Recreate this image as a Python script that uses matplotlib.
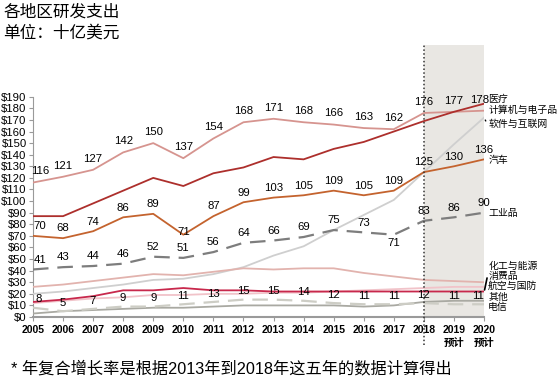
import matplotlib
matplotlib.use("Agg")
import matplotlib.pyplot as plt

plt.rcParams["font.family"] = ["Liberation Sans", "Noto Sans CJK SC"]

years = list(range(2005, 2021))
year_labels = [str(y) for y in years[:-2]] + ["2019\n预计", "2020\n预计"]

computing = [116, 121, 127, 142, 150, 137, 154, 168, 171, 168, 166, 163, 162, 176, 177, 178]
healthcare = [87, 87, 98, 109, 120, 113, 124, 129, 138, 136, 145, 151, 160, 169, 177, 184]
software = [20, 22, 25, 28, 32, 33, 37, 43, 53, 61, 75, 88, 101, 125, 149, 172]
auto = [70, 68, 74, 86, 89, 71, 87, 99, 103, 105, 109, 105, 109, 125, 130, 136]
industrial = [41, 43, 44, 46, 52, 51, 56, 64, 66, 69, 75, 73, 71, 83, 86, 90]
chemicals = [26, 28, 31, 34, 37, 36, 39, 42, 41, 42, 42, 38, 35, 32, 31, 30]
consumer = [12, 14, 16, 17, 19, 19, 20, 20, 21, 21, 22, 23, 24, 25, 26, 26]
aerospace = [13, 15, 18, 23, 23, 25, 23, 23, 22, 22, 22, 22, 22, 22, 22, 22]
other = [3, 5, 6, 7, 8, 8, 9, 10, 10, 10, 10, 9, 10, 13, 14, 14]
telecom = [8, 5, 7, 9, 9, 11, 13, 15, 15, 14, 12, 11, 11, 12, 11, 11]

# (values, end label, colour, linestyle, label dy in pt)
series = [
    (software, "软件与互联网", "#cfcfcf", "-", -4.5),
    (other, "其他", "#a9a9a2", "-", 2.8),
    (telecom, "电信", "#cdcdc5", (0, (7, 4)), -1.8),
    (consumer, "消费品", "#f1c3c9", "-", 7.5),
    (chemicals, "化工与能源", "#e2b3ae", "-", 11.5),
    (aerospace, "航空与国防", "#c8284c", "-", 3.8),
    (industrial, "工业品", "#7d7d7d", (0, (7, 4)), -0.5),
    (auto, "汽车", "#c4632e", "-", -0.8),
    (computing, "计算机与电子品", "#d6948f", "-", 0.8),
    (healthcare, "医疗", "#ad2f2c", "-", 3.6),
]

fig = plt.figure(figsize=(5.58, 3.85), dpi=100)
ax = fig.add_axes([0.0591, 0.1766, 0.8083, 0.7064])
ytop = 234.6
ax.set_xlim(2005, 2020)
ax.set_ylim(0, ytop)

ax.axvspan(2018, 2020, color="#e9e7e3", zorder=0, lw=0)
ax.plot([2018, 2018], [-24, ytop], ls=(0, (1, 1.5)), color="#333333", lw=1.1,
        clip_on=False, zorder=5)

for vals, name, color, ls, dy in series:
    lw = 1.6 if ls != "-" else 1.3
    ax.plot(years, vals, color=color, ls=ls, lw=lw, zorder=3)
    ax.annotate(name, (2020, vals[-1]), xytext=(3, dy), textcoords="offset points",
                fontsize=7.1, va="center", ha="left", annotation_clip=False)

# leader lines for crowded end labels
ax.annotate("", (2020, 21), xytext=(2020.12, 36), arrowprops=dict(arrowstyle="-", color="black", lw=1.2),
            annotation_clip=False)
ax.annotate("", (2020, 172), xytext=(2020.1, 167), arrowprops=dict(arrowstyle="-", color="black", lw=1.0),
            annotation_clip=False)

# data labels
for x, v in zip(years, computing):
    dx = 5 if x == 2005 else (-3 if x == 2020 else 0)
    ax.annotate(str(v), (x, v), xytext=(dx, 8), textcoords="offset points",
                ha="center", va="center", fontsize=8.2)
for x, v in zip(years, auto):
    dy = 2 if x == 2010 else 7
    dx = 5 if x == 2005 else 0
    ax.annotate(str(v), (x, v), xytext=(dx, dy), textcoords="offset points",
                ha="center", va="center", fontsize=8.2)
for x, v in zip(years, industrial):
    dy = -6 if x == 2017 else 7
    dx = 5 if x == 2005 else 0
    ax.annotate(str(v), (x, v), xytext=(dx, dy), textcoords="offset points",
                ha="center", va="center", fontsize=8.2)
for x, v in zip(years, telecom):
    dx = 4 if x == 2005 else (-4 if x == 2020 else 0)
    ax.annotate(str(v), (x, v), xytext=(dx, 6), textcoords="offset points",
                ha="center", va="center", fontsize=8.2)

for side in ["top", "right"]:
    ax.spines[side].set_visible(False)
ax.spines["left"].set_bounds(0, 190)
ax.spines["left"].set_color("#9a9a9a")
ax.spines["bottom"].set_color("#9a9a9a")
ax.spines["bottom"].set_linewidth(1.5)

ax.set_yticks(range(0, 200, 10))
ax.set_yticklabels([f"${v}" for v in range(0, 200, 10)], fontsize=8.2)
ax.set_xticks(years)
ax.set_xticklabels(year_labels, fontsize=7.5, fontweight="bold", linespacing=1.3)
ax.tick_params(axis="both", direction="out", color="#9a9a9a", length=3, pad=1.5)
ax.tick_params(axis="x", pad=3)

fig.text(0.006, 1 - 12 / 385, "各地区研发支出", fontsize=12, va="center")
fig.text(0.006, 1 - 33 / 385, "单位：十亿美元", fontsize=12, va="center")
fig.text(0.02, 1 - 369 / 385, "* 年复合增长率是根据2013年到2018年这五年的数据计算得出",
         fontsize=11.7, va="center")

fig.savefig("out.png", dpi=100)
